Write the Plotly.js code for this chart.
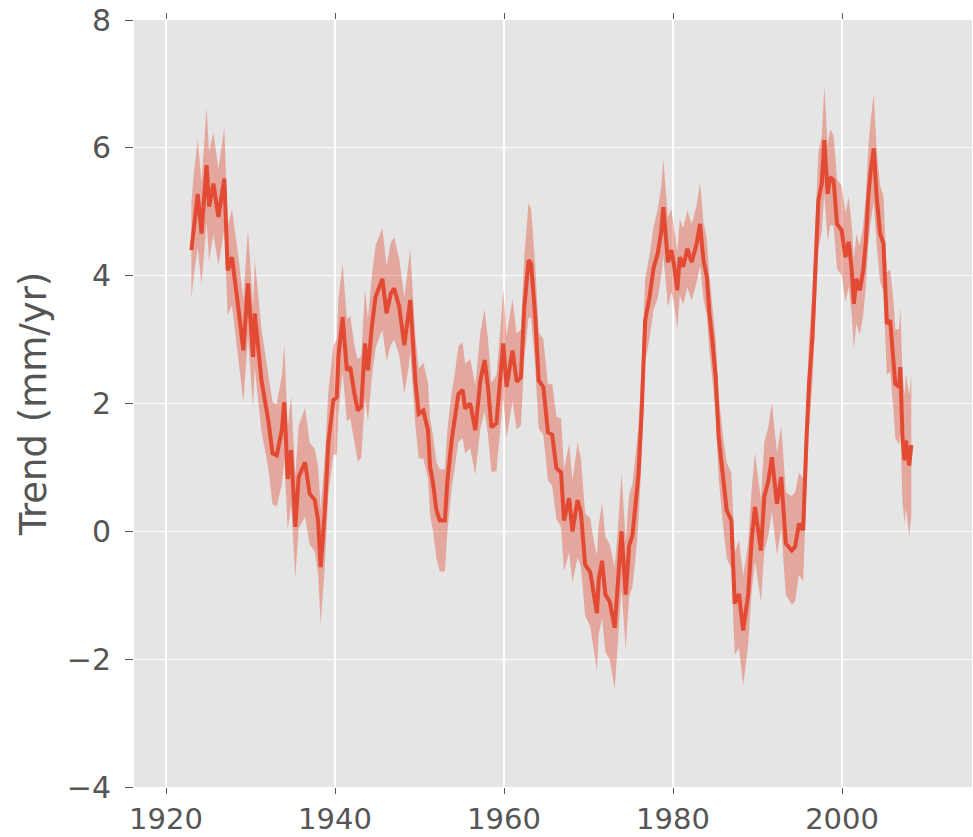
<!DOCTYPE html>
<html>
<head>
<meta charset="utf-8">
<script src="https://cdn.plot.ly/plotly-3.0.1.min.js"></script>
<style>html,body{margin:0;padding:0;background:#fff;}#chart{width:973px;height:837px;}</style>
</head>
<body>
<div id="chart"></div>
<script>
// Decimal years
var years = [
 1923.0,1923.3,1923.75,1924.2,1924.8,1925.1,1925.6,1926.2,1926.9,1927.3,
 1927.8,1928.5,1929.15,1929.7,1930.3,1930.5,1931.3,1932.1,1932.6,1933.1,
 1933.7,1934.0,1934.4,1934.8,1935.3,1935.7,1936.45,1937.0,1937.6,1938.0,
 1938.3,1938.8,1939.2,1939.8,1940.2,1940.4,1940.9,1941.4,1941.8,1942.3,
 1942.7,1943.1,1943.55,1943.9,1944.35,1944.8,1945.2,1945.6,1946.1,1946.6,
 1947.0,1947.6,1948.2,1948.7,1948.9,1949.5,1949.9,1950.45,1951.0,1951.25,
 1951.6,1952.0,1952.4,1953.0,1953.3,1953.8,1954.2,1954.6,1955.1,1955.4,
 1956.0,1956.6,1957.2,1957.7,1958.1,1958.5,1959.1,1959.5,1959.9,1960.3,
 1961.0,1961.5,1962.0,1962.4,1962.9,1963.2,1963.7,1964.1,1964.65,1965.2,
 1965.7,1966.2,1966.75,1967.1,1967.7,1968.1,1968.7,1969.1,1969.6,1970.2,
 1970.6,1971.0,1971.2,1971.6,1972.0,1972.5,1973.1,1973.5,1973.9,1974.4,
 1974.8,1975.2,1975.5,1975.9,1976.3,1976.7,1977.2,1977.7,1978.2,1978.6,
 1978.85,1979.4,1979.8,1980.15,1980.5,1980.8,1981.2,1981.7,1982.2,1982.8,
 1983.2,1983.6,1984.0,1984.3,1984.65,1985.05,1985.4,1985.95,1986.35,1986.9,
 1987.3,1987.8,1988.3,1988.9,1989.3,1989.7,1990.4,1990.8,1991.3,1991.7,
 1992.3,1992.8,1993.35,1994.05,1994.45,1994.9,1995.4,1995.8,1996.1,1996.5,
 1996.8,1997.2,1997.6,1997.9,1998.3,1998.6,1999.0,1999.4,1999.95,2000.4,
 2000.8,2001.15,2001.4,2001.7,2002.1,2002.5,2002.8,2003.1,2003.4,2003.75,
 2004.1,2004.5,2004.9,2005.3,2005.7,2006.1,2006.3,2006.75,2006.9,2007.15,
 2007.4,2007.55,2007.95,2008.2
];
// Trend (mm/yr)
var trend = [
 4.40,4.81,5.28,4.66,5.73,5.08,5.44,4.92,5.52,4.08,
 4.29,3.56,2.83,3.88,2.73,3.41,2.36,1.74,1.22,1.19,
 1.58,2.02,0.82,1.27,0.07,0.85,1.08,0.59,0.49,0.17,
 -0.56,0.33,1.37,2.05,2.10,2.73,3.35,2.52,2.57,2.15,
 1.89,1.95,2.94,2.52,3.20,3.67,3.82,3.95,3.41,3.72,
 3.80,3.51,2.91,3.35,3.62,2.36,1.84,1.89,1.58,1.01,
 0.75,0.33,0.17,0.17,0.80,1.42,1.74,2.15,2.21,1.92,
 2.00,1.58,2.36,2.68,2.26,1.63,1.69,2.26,2.94,2.26,
 2.83,2.34,2.41,3.51,4.24,4.19,3.35,2.36,2.26,1.55,
 1.51,0.99,0.92,0.17,0.52,0.00,0.49,0.29,-0.52,-0.64,
 -0.99,-1.28,-0.76,-0.46,-0.99,-1.10,-1.51,-0.81,0.00,-0.99,
 -0.23,-0.06,0.29,0.87,1.91,3.30,3.65,4.12,4.35,4.69,
 5.07,4.21,4.40,4.14,3.77,4.29,4.14,4.42,4.21,4.50,
 4.81,4.24,3.98,3.41,2.99,2.41,1.48,0.75,0.33,0.17,
 -1.13,-0.98,-1.55,-0.98,-0.14,0.38,-0.30,0.54,0.80,1.16,
 0.43,0.85,-0.19,-0.30,-0.24,0.12,0.02,1.48,2.31,3.04,
 3.88,5.18,5.44,6.12,5.28,5.54,5.49,4.81,4.71,4.29,
 4.53,4.08,3.56,3.95,3.77,4.08,4.50,5.23,5.65,5.99,
 5.23,4.66,4.50,3.25,3.30,2.73,2.31,2.26,2.57,1.48,
 1.11,1.42,1.03,1.35
];
// Half-width of the uncertainty band (mm/yr)
var err = [
 0.75,0.80,0.85,0.80,0.90,0.85,0.80,0.75,0.80,0.70,
 0.75,0.80,0.80,0.85,0.80,0.85,0.80,0.75,0.80,0.80,
 0.85,0.90,0.80,0.85,0.80,0.80,0.85,0.80,0.80,0.85,
 0.90,0.85,0.80,0.85,0.90,0.90,0.85,0.80,0.80,0.75,
 0.80,0.80,0.85,0.80,0.80,0.80,0.80,0.80,0.75,0.80,
 0.80,0.75,0.75,0.80,0.80,0.70,0.70,0.75,0.75,0.75,
 0.75,0.75,0.80,0.80,0.80,0.75,0.75,0.75,0.75,0.70,
 0.70,0.70,0.75,0.80,0.75,0.70,0.75,0.80,0.85,0.80,
 0.80,0.75,0.75,0.80,0.90,0.85,0.80,0.75,0.75,0.75,
 0.80,0.80,0.85,0.80,0.85,0.80,0.90,0.85,0.80,0.85,
 0.85,0.90,0.85,0.90,0.90,0.90,0.95,0.90,0.90,0.85,
 0.80,0.80,0.80,0.75,0.70,0.65,0.65,0.65,0.70,0.70,
 0.75,0.70,0.65,0.60,0.60,0.60,0.60,0.60,0.60,0.60,
 0.65,0.60,0.60,0.60,0.60,0.60,0.65,0.70,0.75,0.75,
 0.80,0.85,0.85,0.80,0.80,0.85,0.80,0.85,0.85,0.85,
 0.80,0.80,0.80,0.85,0.85,0.80,0.80,0.75,0.70,0.70,
 0.70,0.75,0.75,0.85,0.75,0.75,0.70,0.70,0.70,0.70,
 0.70,0.70,0.70,0.70,0.70,0.70,0.70,0.75,0.80,0.85,
 0.75,0.75,0.75,0.80,0.80,0.85,0.85,0.90,0.95,1.00,
 1.00,1.05,1.10,1.10
];
var xTicks = [1920, 1940, 1960, 1980, 2000];
var yTicks = [-4, -2, 0, 2, 4, 6, 8];
var yTitle = 'Trend (mm/yr)';

var upper = trend.map(function(v, i){ return v + err[i]; });
var lower = trend.map(function(v, i){ return v - err[i]; });
var bandX = years.concat(years.slice().reverse());
var bandY = upper.concat(lower.slice().reverse());

var data = [
  {x: bandX, y: bandY, type: 'scatter', mode: 'lines', fill: 'toself',
   fillcolor: 'rgba(226,74,51,0.4)', line: {width: 0, color: 'rgba(0,0,0,0)'},
   hoverinfo: 'skip', showlegend: false},
  {x: years, y: trend, type: 'scatter', mode: 'lines',
   line: {color: '#E24A33', width: 4}, showlegend: false}
];

var axisFont = {family: 'DejaVu Sans', size: 30, color: '#555555'};
var layout = {
  width: 973, height: 837,
  margin: {l: 134, r: 1, t: 20, b: 50},
  paper_bgcolor: '#ffffff', plot_bgcolor: '#E5E5E5',
  showlegend: false,
  xaxis: {range: [1916.21, 2015.38], tickvals: xTicks, ticktext: xTicks.map(String),
          ticks: 'outside', ticklen: 6, tickwidth: 1, tickcolor: '#555555',
          showline: false, mirror: 'ticks', zeroline: false,
          showgrid: true, gridcolor: '#ffffff', gridwidth: 1.2,
          tickfont: {family: 'DejaVu Sans', size: 29, color: '#555555'}, ticklabelstandoff: 0},
  yaxis: {range: [-4, 8], tickvals: yTicks,
          ticks: 'outside', ticklen: 8, tickwidth: 1, tickcolor: '#555555',
          showline: false, mirror: 'ticks', zeroline: false,
          showgrid: true, gridcolor: '#ffffff', gridwidth: 1.2,
          tickfont: axisFont, ticklabelstandoff: 8,
          title: {text: yTitle, font: {family: 'DejaVu Sans', size: 37, color: '#555555'}, standoff: 8}}
};
Plotly.newPlot('chart', data, layout, {displayModeBar: false, staticPlot: true});
</script>
</body>
</html>
